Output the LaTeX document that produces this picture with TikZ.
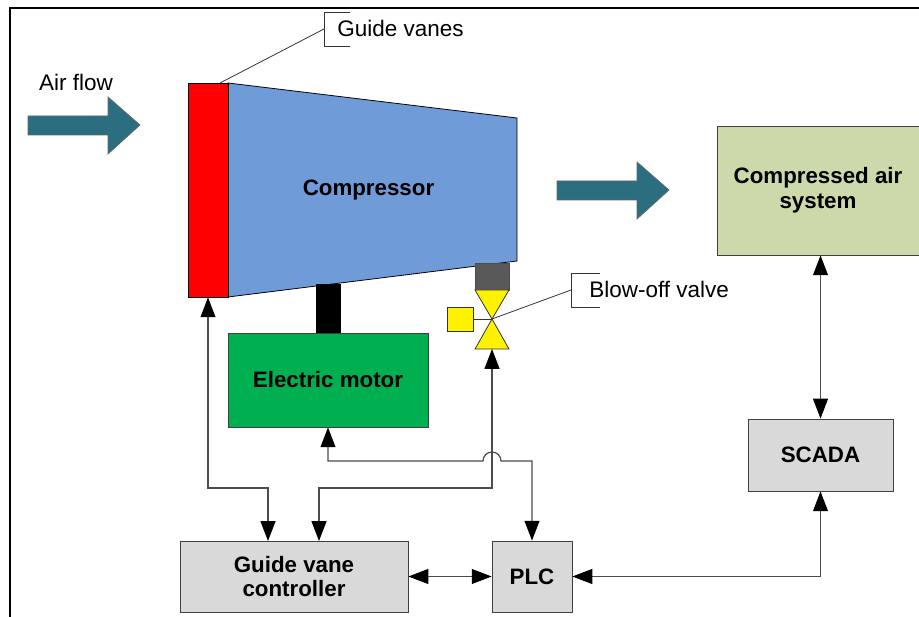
\documentclass[tikz,border=0pt]{standalone}
\usepackage{fontspec}
\setmainfont{Liberation Sans}
\usepackage{tikz}
\usetikzlibrary{arrows.meta,positioning,calc}
\definecolor{flowteal}{RGB}{42,110,128}
\definecolor{compblue}{RGB}{112,155,217}
\definecolor{motorgreen}{RGB}{0,176,80}
\definecolor{airgreen}{RGB}{204,217,170}
\definecolor{boxgray}{RGB}{217,217,217}
\def\px{0.02cm}
\tikzset{
    blockbox/.style={draw=black!75, line width=0.45pt, align=center, inner sep=0pt,
        font=\fontsize{12.7}{14.1}\selectfont\bfseries},
    linkline/.style={draw=black!70, line width=0.7pt, {Triangle[length=11.3pt,width=8.5pt,color=black]}-{Triangle[length=11.3pt,width=8.5pt,color=black]}},
    flowarrow/.style={fill=flowteal, draw=black!60, line width=0.4pt},
    calloutline/.style={draw=black!80, line width=0.45pt},
    plainlabel/.style={inner sep=0pt, font=\fontsize{12.8}{15}\selectfont},
}
\begin{document}
\begin{tikzpicture}[x=\px, y=-\px]
    \useasboundingbox (0,0) rectangle (919,617);

    % Frame
    \draw[black, line width=1.2pt] (10,617) -- (10,8) -- (919,8);

    % Air flow arrows
    \draw[flowarrow] (28,116) -- (108,116) -- (108,97) -- (140,125) -- (108,154) -- (108,135) -- (28,135) -- cycle;
    \draw[flowarrow] (557,181) -- (637,181) -- (637,162) -- (669,190) -- (637,219) -- (637,200) -- (557,200) -- cycle;
    \node[plainlabel] (airflow) at (76,82.5) {Air flow};

    % Compressor and motor
    \draw[fill=compblue, draw=black, line width=0.45pt] (228,83) -- (517,118) -- (517,261) -- (228,297) -- cycle;
    \node[blockbox, draw=none] (compressor) at (368.5,190) {Compressor};
    \node[blockbox, draw=black, fill=red, minimum width=40*\px, minimum height=214*\px] (vanes) at (208,190) {};
    \node[fill=black, inner sep=0pt, minimum width=25*\px, minimum height=49*\px] (shaft) at (328.5,308.5) {};
    \node[blockbox, fill=motorgreen, minimum width=200*\px, minimum height=94*\px] (motor) at (328,380) {Electric motor};

    % Blow-off valve
    \node[draw=black!70, fill=black!65, line width=0.45pt, inner sep=0pt, minimum width=34*\px, minimum height=27*\px] (pipe) at (492,276.5) {};
    \coordinate (valvemid) at (492,319);
    \coordinate (valvebot) at (492,349);
    \node[draw=black!80, fill=yellow, line width=0.45pt, inner sep=0pt, minimum width=26*\px, minimum height=24*\px] (actuator) at (460,319) {};
    \draw[draw=black!80, line width=0.45pt] (actuator.east) -- (valvemid);
    \draw[fill=yellow, draw=black!80, line width=0.45pt] (475,290) -- (509,290) -- (valvemid) -- cycle;
    \draw[fill=yellow, draw=black!80, line width=0.45pt] (valvemid) -- (475,349) -- (509,349) -- cycle;

    % Callouts
    \coordinate (vanetip) at (220,83);
    \coordinate (vanecall) at (324,29);
    \draw[calloutline] (350,12) -- (324,12) -- (324,46) -- (350,46);
    \draw[calloutline] (vanecall) -- (vanetip);
    \node[plainlabel, anchor=west] (vanelabel) at (337,28.5) {Guide vanes};
    \coordinate (valvecall) at (571,290);
    \draw[calloutline] (600,273) -- (571,273) -- (571,307) -- (600,307);
    \draw[calloutline] (valvecall) -- (valvemid);
    \node[plainlabel, anchor=west] (valvelabel) at (589,289.5) {Blow-off valve};

    % Control blocks
    \node[blockbox, fill=airgreen, minimum width=202*\px, minimum height=129*\px] (airsys) at (818,190.5) {Compressed air\\system};
    \node[blockbox, fill=boxgray, minimum width=145*\px, minimum height=72*\px] (scada) at (820.5,455) {SCADA};
    \node[blockbox, fill=boxgray, minimum width=228*\px, minimum height=71*\px] (gvc) at (294,576.5) {Guide vane\\controller};
    \node[blockbox, fill=boxgray, minimum width=80*\px, minimum height=71*\px] (plc) at (532,576.5) {PLC};

    % Connectors
    \draw[linkline] (scada.north) -- (scada.north |- airsys.south);
    \draw[linkline] (plc.east) -| (scada.south);
    \draw[linkline] (gvc.east) -- (plc.west);
    \draw[linkline] (vanes.south) -- (208,488) -- (268,488) -- (268,541);
    \draw[linkline] (valvebot) -- (492,488) -- (319,488) -- (319,541);
    \draw[linkline] (motor.south) -- (328,461) -- (483,461) arc[start angle=180, end angle=360, radius=9] -- (532,461) -- (plc.north);
\end{tikzpicture}
\end{document}
